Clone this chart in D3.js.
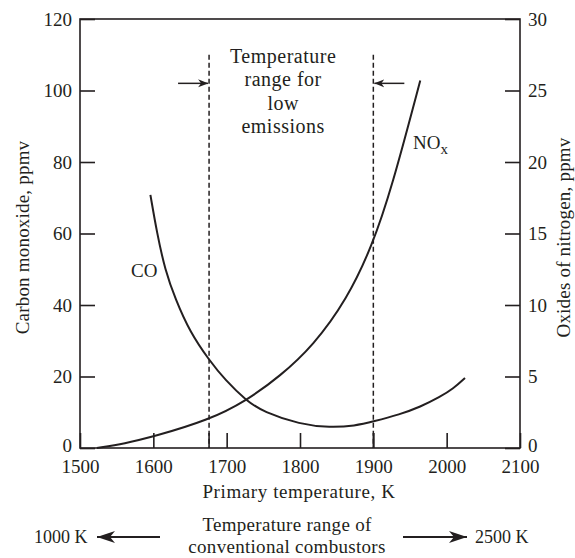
<!DOCTYPE html>
<html>
<head>
<meta charset="utf-8">
<script src="https://cdn.jsdelivr.net/npm/d3@7"></script>
<style>
  body { margin: 0; background: #fff; }
  text { font-family: "Liberation Serif", "Times New Roman", serif; fill: #231f20; }
</style>
</head>
<body>
<div id="chart"></div>
<script>
// ---------------- DATA ----------------
const coTemps = [1596, 1605, 1616, 1630, 1650, 1676, 1698, 1727, 1750, 1800, 1841, 1875, 1900, 1936, 1964, 1991, 2009, 2025];
const coValues = [70.8, 60.1, 49.8, 41.7, 32.4, 24.6, 19.0, 13.2, 10.1, 6.6, 5.7, 6.2, 7.4, 9.4, 11.5, 14.3, 16.6, 19.6];

const noxTemps = [1523, 1561, 1600, 1676, 1727, 1773, 1818, 1864, 1898, 1925, 1964];
const noxValues = [0, 0.31, 0.79, 1.96, 3.31, 5.03, 7.15, 10.4, 14.08, 18.16, 25.7];

const xTicks = [1500, 1600, 1700, 1800, 1900, 2000, 2100];
const leftTicks = [0, 20, 40, 60, 80, 100, 120];
const rightTicks = [0, 5, 10, 15, 20, 25, 30];

const lowEmissionRange = [1676, 1900];
const rangeLabel = ["Temperature", "range for", "low", "emissions"];
const conventionalLabel = ["Temperature range of", "conventional combustors"];
const conventionalEnds = ["1000 K", "2500 K"];

// ---------------- SVG ----------------
const width = 575, height = 558;
const margin = {top: 19, right: 55, bottom: 110, left: 80};
const innerW = width - margin.left - margin.right;   // 440
const innerH = height - margin.top - margin.bottom;  // 429
const ink = "#231f20";

const svg = d3.select("#chart").append("svg")
  .attr("width", width)
  .attr("height", height);

const defs = svg.append("defs");
defs.append("marker")
  .attr("id", "head")
  .attr("viewBox", "0 0 10 10")
  .attr("refX", 10).attr("refY", 5)
  .attr("markerWidth", 10).attr("markerHeight", 10)
  .attr("markerUnits", "userSpaceOnUse")
  .attr("orient", "auto")
  .append("path")
  .attr("d", "M0,1 L10,5 L0,9 L3,5 Z")
  .attr("fill", ink);
defs.append("marker")
  .attr("id", "bighead")
  .attr("viewBox", "0 0 18 12")
  .attr("refX", 18).attr("refY", 6)
  .attr("markerWidth", 18).attr("markerHeight", 12)
  .attr("markerUnits", "userSpaceOnUse")
  .attr("orient", "auto")
  .append("path")
  .attr("d", "M0,0 L18,6 L0,12 L5,6 Z")
  .attr("fill", ink);

const g = svg.append("g")
  .attr("transform", `translate(${margin.left},${margin.top})`);

// ---------------- SCALES ----------------
const x = d3.scaleLinear().domain([1500, 2100]).range([0, innerW]);
const yCO = d3.scaleLinear().domain([0, 120]).range([innerH, 0]);
const yNOx = d3.scaleLinear().domain([0, 30]).range([innerH, 0]);

// ---------------- AXES ----------------
const tickFont = "19px";

const xAxis = g.append("g")
  .attr("transform", `translate(0,${innerH})`)
  .call(d3.axisBottom(x).tickValues(xTicks).tickFormat(d3.format("d"))
    .tickSizeInner(-15).tickSizeOuter(0).tickPadding(10));

const leftAxis = g.append("g")
  .call(d3.axisLeft(yCO).tickValues(leftTicks)
    .tickSizeInner(-15).tickSizeOuter(0).tickPadding(8));

const rightAxis = g.append("g")
  .attr("transform", `translate(${innerW},0)`)
  .call(d3.axisRight(yNOx).tickValues(rightTicks)
    .tickSizeInner(-15).tickSizeOuter(0).tickPadding(8));

[xAxis, leftAxis, rightAxis].forEach(a => {
  a.selectAll("path.domain").remove();
  a.selectAll("line").attr("stroke", ink).attr("stroke-width", 1.6);
  a.selectAll("text").attr("fill", ink).style("font-size", tickFont)
    .style("font-family", '"Liberation Serif", serif');
});
xAxis.selectAll("text").attr("dy", "0.8em");
// lift the two zero labels a little so they clear the x labels
[leftAxis, rightAxis].forEach(a => {
  a.selectAll(".tick").filter(d => d === 0).select("text").attr("y", -3);
});

// frame
g.append("rect")
  .attr("x", 0).attr("y", 0)
  .attr("width", innerW).attr("height", innerH)
  .attr("fill", "none")
  .attr("stroke", ink)
  .attr("stroke-width", 1.6);

// axis titles
svg.append("text")
  .attr("transform", `translate(29,${margin.top + innerH / 2 + 4}) rotate(-90)`)
  .attr("text-anchor", "middle")
  .style("font-size", "19px")
  .style("letter-spacing", "0.2px")
  .text("Carbon monoxide, ppmv");

svg.append("text")
  .attr("transform", `translate(570,${margin.top + innerH / 2 + 4}) rotate(-90)`)
  .attr("text-anchor", "middle")
  .style("font-size", "19px")
  .style("letter-spacing", "0.2px")
  .text("Oxides of nitrogen, ppmv");

svg.append("text")
  .attr("x", 299)
  .attr("y", 498)
  .attr("text-anchor", "middle")
  .style("font-size", "19px")
  .style("letter-spacing", "0.6px")
  .text("Primary temperature, K");

// ---------------- LOW-EMISSION RANGE ----------------
g.selectAll("line.range")
  .data(lowEmissionRange)
  .enter().append("line")
  .attr("class", "range")
  .attr("x1", d => x(d)).attr("x2", d => x(d))
  .attr("y1", yCO(110)).attr("y2", innerH)
  .attr("stroke", ink)
  .attr("stroke-width", 1.5)
  .attr("stroke-dasharray", "5,3");

// solid foot of the dashed lines
g.selectAll("line.foot")
  .data(lowEmissionRange)
  .enter().append("line")
  .attr("class", "foot")
  .attr("x1", d => x(d)).attr("x2", d => x(d))
  .attr("y1", innerH - 15).attr("y2", innerH)
  .attr("stroke", ink)
  .attr("stroke-width", 1.6);

// arrows pointing at the dashed lines
g.append("line")
  .attr("x1", x(lowEmissionRange[0]) - 31).attr("x2", x(lowEmissionRange[0]) - 1)
  .attr("y1", yCO(102)).attr("y2", yCO(102))
  .attr("stroke", ink).attr("stroke-width", 1.5)
  .attr("marker-end", "url(#head)");
g.append("line")
  .attr("x1", x(lowEmissionRange[1]) + 31).attr("x2", x(lowEmissionRange[1]) + 1)
  .attr("y1", yCO(102)).attr("y2", yCO(102))
  .attr("stroke", ink).attr("stroke-width", 1.5)
  .attr("marker-end", "url(#head)");

g.append("text")
  .attr("x", x(1777))
  .attr("y", 44)
  .attr("text-anchor", "middle")
  .style("font-size", "20px")
  .style("letter-spacing", "0.5px")
  .selectAll("tspan")
  .data(rangeLabel)
  .enter().append("tspan")
  .attr("x", x(1777))
  .attr("dy", (d, i) => i === 0 ? 0 : 23.3)
  .text(d => d);

// ---------------- CURVES ----------------
const coData = coTemps.map((t, i) => ({t: t, v: coValues[i]}));
const noxData = noxTemps.map((t, i) => ({t: t, v: noxValues[i]}));

const coLine = d3.line()
  .x(d => x(d.t))
  .y(d => yCO(d.v))
  .curve(d3.curveBasis);

const noxLine = d3.line()
  .x(d => x(d.t))
  .y(d => yNOx(d.v))
  .curve(d3.curveBasis);

g.append("path")
  .attr("d", coLine(coData))
  .attr("fill", "none")
  .attr("stroke", ink)
  .attr("stroke-width", 2);

g.append("path")
  .attr("d", noxLine(noxData))
  .attr("fill", "none")
  .attr("stroke", ink)
  .attr("stroke-width", 2);

// curve labels
g.append("text")
  .attr("x", 51).attr("y", 258)
  .style("font-size", "19px")
  .text("CO");

const noxLabel = g.append("text")
  .attr("x", 333).attr("y", 130)
  .style("font-size", "19px");
noxLabel.append("tspan").text("NO");
noxLabel.append("tspan").attr("dy", 5).style("font-size", "15px").text("x");

// ---------------- CONVENTIONAL RANGE ----------------
svg.append("text")
  .attr("x", 287).attr("y", 531)
  .attr("text-anchor", "middle")
  .style("font-size", "19px")
  .style("letter-spacing", "0.3px")
  .selectAll("tspan")
  .data(conventionalLabel)
  .enter().append("tspan")
  .attr("x", 287)
  .attr("dy", (d, i) => i === 0 ? 0 : 22)
  .text(d => d);

svg.append("text")
  .attr("x", 34).attr("y", 543)
  .style("font-size", "18px")
  .text(conventionalEnds[0]);

svg.append("text")
  .attr("x", 475).attr("y", 543)
  .style("font-size", "18px")
  .text(conventionalEnds[1]);

svg.append("line")
  .attr("x1", 160).attr("x2", 97)
  .attr("y1", 537).attr("y2", 537)
  .attr("stroke", ink).attr("stroke-width", 2)
  .attr("marker-end", "url(#bighead)");

svg.append("line")
  .attr("x1", 403).attr("x2", 467)
  .attr("y1", 537).attr("y2", 537)
  .attr("stroke", ink).attr("stroke-width", 2)
  .attr("marker-end", "url(#bighead)");
</script>
</body>
</html>
